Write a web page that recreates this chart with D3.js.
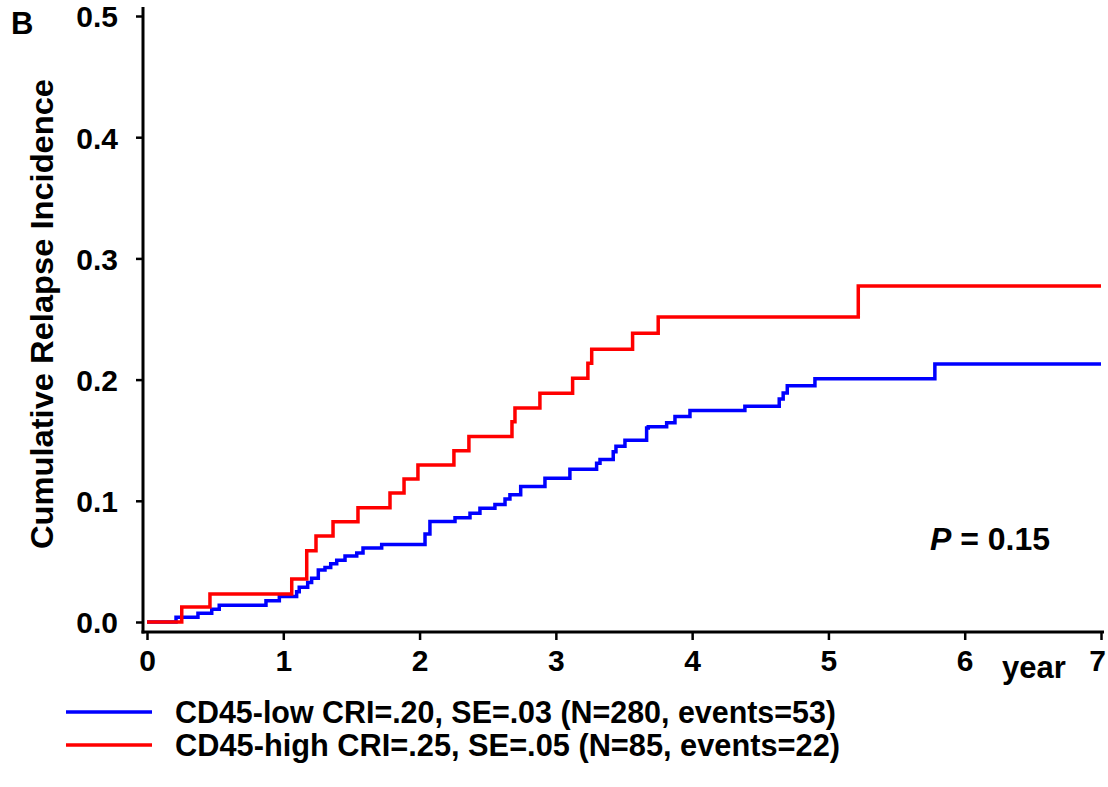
<!DOCTYPE html>
<html>
<head>
<meta charset="utf-8">
<script src="https://cdn.jsdelivr.net/npm/d3@7"></script>
<style>
  body { margin: 0; background: #fff; }
  text { font-family: "Liberation Sans", Arial, sans-serif; font-weight: bold; fill: #000; }
</style>
</head>
<body>
<div id="viz"></div>
<script>
// step points: time (years) and cumulative relapse incidence
const lowTime = [0, 0.213, 0.374, 0.475, 0.530, 0.873, 0.971, 1.098, 1.117, 1.179, 1.208, 1.257, 1.306, 1.348, 1.392,
  1.453, 1.539, 1.585, 1.722, 2.040, 2.076, 2.260, 2.370, 2.443, 2.553, 2.627, 2.663, 2.742, 2.920, 3.103,
  3.299, 3.324, 3.421, 3.441, 3.507, 3.666, 3.678, 3.813, 3.874, 3.984, 4.387, 4.639, 4.668, 4.698, 4.901, 5.781, 7];
const lowCRI = [0, 0.0039, 0.0072, 0.0105, 0.0138, 0.0176, 0.021, 0.025, 0.0286, 0.0325, 0.036, 0.043, 0.045, 0.048, 0.051,
  0.0545, 0.057, 0.061, 0.064, 0.0726, 0.083, 0.086, 0.0897, 0.0938, 0.097, 0.1015, 0.105, 0.1117, 0.1186, 0.126,
  0.131, 0.134, 0.1405, 0.145, 0.150, 0.160, 0.161, 0.1645, 0.1695, 0.1745, 0.178, 0.184, 0.189, 0.195, 0.2007, 0.2129, 0.2129];

const highTime = [0, 0.255, 0.462, 1.062, 1.172, 1.240, 1.365, 1.548, 1.783, 1.886, 1.988, 2.252, 2.362, 2.678, 2.700,
  2.883, 3.123, 3.235, 3.263, 3.563, 3.751, 5.219, 7];
const highCRI = [0, 0.0124, 0.0231, 0.0355, 0.0588, 0.0710, 0.0828, 0.0943, 0.1064, 0.1180, 0.1295, 0.1413, 0.1531, 0.1653, 0.1766,
  0.1887, 0.2011, 0.2134, 0.2250, 0.2382, 0.2517, 0.2772, 0.2772];

const xTicks = [0, 1, 2, 3, 4, 5, 6, 7];
const yTicks = [0, 0.1, 0.2, 0.3, 0.4, 0.5];
const legendLabels = ["CD45-low CRI=.20, SE=.03 (N=280, events=53)", "CD45-high CRI=.25, SE=.05 (N=85, events=22)"];
const seriesColors = ["#0000ff", "#ff0000"];

const W = 1108, H = 787;

const svg = d3.select("#viz")
  .append("svg")
  .attr("width", W)
  .attr("height", H)
  .attr("viewBox", [0, 0, W, H]);

const x = d3.scaleLinear().domain([0, 7]).range([147, 1101]);
const y = d3.scaleLinear().domain([0, 0.5]).range([622, 16]);

const yAxisX = 143, xAxisY = 632;

// y axis
svg.append("g")
  .attr("transform", `translate(${yAxisX},0)`)
  .call(d3.axisLeft(y).tickValues(yTicks).tickFormat(d3.format(".1f")).tickSize(7).tickPadding(18))
  .call(g => g.select(".domain").remove())
  .call(g => g.selectAll(".tick line").attr("stroke", "#000").attr("stroke-width", 2.5))
  .call(g => g.selectAll(".tick text").style("font-size", "30px").attr("dy", "0.36em"));

svg.append("line")
  .attr("x1", yAxisX).attr("x2", yAxisX)
  .attr("y1", 7).attr("y2", xAxisY + 1.5)
  .attr("stroke", "#000").attr("stroke-width", 3);

// x axis
svg.append("g")
  .attr("transform", `translate(0,${xAxisY})`)
  .call(d3.axisBottom(x).tickValues(xTicks).tickFormat(d3.format("d")).tickSize(8).tickPadding(10))
  .call(g => g.select(".domain").remove())
  .call(g => g.selectAll(".tick line").attr("stroke", "#000").attr("stroke-width", 2.5))
  .call(g => g.selectAll(".tick text").style("font-size", "30px").attr("dy", "0.71em")
    .attr("dx", d => d === 7 ? -4 : 0));

svg.append("line")
  .attr("x1", yAxisX - 1.5).attr("x2", x(7) + 3)
  .attr("y1", xAxisY).attr("y2", xAxisY)
  .attr("stroke", "#000").attr("stroke-width", 3);

// step curves
const line = d3.line()
  .x(d => x(d[0]))
  .y(d => y(d[1]))
  .curve(d3.curveStepAfter);

const series = [d3.zip(lowTime, lowCRI), d3.zip(highTime, highCRI)];

svg.append("g")
  .selectAll("path")
  .data(series)
  .enter()
  .append("path")
    .attr("d", line)
    .attr("fill", "none")
    .attr("stroke", (d, i) => seriesColors[i])
    .attr("stroke-width", 3.5);

// axis titles and labels
svg.append("text")
  .attr("transform", `translate(53,${314}) rotate(-90)`)
  .attr("text-anchor", "middle")
  .style("font-size", "32px")
  .attr("textLength", 470)
  .attr("lengthAdjust", "spacingAndGlyphs")
  .text("Cumulative Relapse Incidence");

svg.append("text")
  .attr("x", 1002).attr("y", 678)
  .style("font-size", "31px")
  .text("year");

svg.append("text")
  .attr("x", 11).attr("y", 34)
  .style("font-size", "31px")
  .text("B");

const pLabel = svg.append("text")
  .attr("x", 930).attr("y", 550)
  .style("font-size", "32px");
pLabel.append("tspan").attr("font-style", "italic").text("P");
pLabel.append("tspan").text(" = 0.15");

// legend
const legend = svg.append("g")
  .selectAll("g")
  .data(legendLabels)
  .enter()
  .append("g")
    .attr("transform", (d, i) => `translate(0,${712 + i * 33})`);

legend.append("line")
  .attr("x1", 66).attr("x2", 152)
  .attr("stroke", (d, i) => seriesColors[i])
  .attr("stroke-width", 3.5);

legend.append("text")
  .attr("x", 175).attr("y", 11)
  .style("font-size", "31px")
  .attr("textLength", (d, i) => i === 0 ? 661 : 665)
  .attr("lengthAdjust", "spacingAndGlyphs")
  .text(d => d);
</script>
</body>
</html>
